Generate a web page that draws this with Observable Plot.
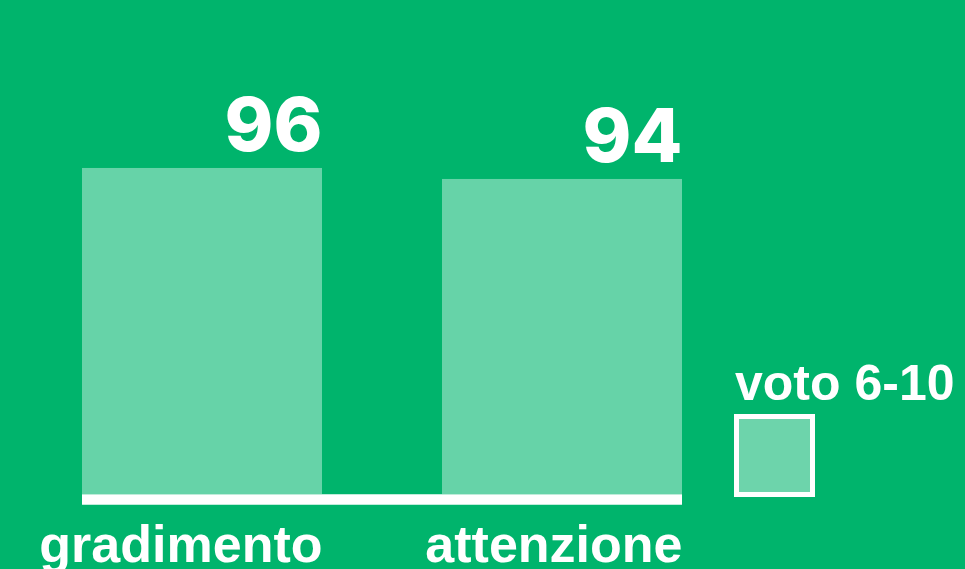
<!DOCTYPE html>
<html>
<head>
<meta charset="utf-8">
<script src="https://cdn.jsdelivr.net/npm/d3@7"></script>
<script src="https://cdn.jsdelivr.net/npm/@observablehq/plot@0.6"></script>
<style>
  html, body { margin: 0; padding: 0; background: #00B46C; }
  #wrap { position: relative; width: 965px; height: 569px; overflow: hidden; background: #00B46C; font-family: "Liberation Sans", Arial, sans-serif; }
  #legend-label { position: absolute; left: 735px; top: 358px; font-size: 50px; line-height: 50px; font-weight: bold; color: white; white-space: nowrap; }
  #legend-swatch { position: absolute; left: 734px; top: 414px; width: 81px; height: 83px; box-sizing: border-box; border: 5px solid white; background: #6DD4AB; }
</style>
</head>
<body>
<div id="wrap">
  <div id="chart"></div>
  <div id="legend-label"></div>
  <div id="legend-swatch"></div>
</div>
<script>
const categories = ["gradimento", "attenzione"];
const values = [96, 94];
const valueLabels = ["96", "94"];
const legendLabel = "voto 6-10";

const yMin = 36.73;
const yMax = 122.9;

const data = categories.map((c, i) => ({category: c, value: values[i], label: valueLabels[i]}));

const chart = Plot.plot({
  width: 965,
  height: 569,
  marginLeft: 82,
  marginRight: 283,
  marginTop: 20,
  marginBottom: 75,
  x: {domain: categories, paddingInner: 1/3, paddingOuter: 0, axis: null},
  y: {domain: [yMin, yMax], axis: null},
  style: {background: "#00B46C", fontFamily: "'Liberation Sans', Arial, sans-serif", overflow: "visible"},
  marks: [
    Plot.barY(data, {x: "category", y1: () => yMin, y2: "value", fill: "#66D3A8"}),
    Plot.ruleY([yMin], {stroke: "white", strokeWidth: 10.5, dy: 5}),
    Plot.text(data, {x: "category", y: "value", text: "label", textAnchor: "end", lineAnchor: "bottom", dx: 120, dy: -17, fill: "white", fontSize: 74, fontWeight: 800, fontFamily: "Inter, 'Liberation Sans', sans-serif"}),
    Plot.text(data, {x: "category", frameAnchor: "bottom", text: "category", textAnchor: "end", lineAnchor: "bottom", dx: 120, dy: 67, fill: "white", fontSize: 52, fontWeight: "bold"})
  ]
});
document.getElementById("chart").appendChild(chart);
document.getElementById("legend-label").textContent = legendLabel;
</script>
</body>
</html>
